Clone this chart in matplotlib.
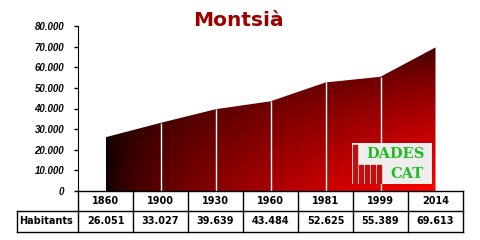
import matplotlib.pyplot as plt
import numpy as np
from matplotlib.patches import Rectangle
from matplotlib.transforms import blended_transform_factory

years = ['1860', '1900', '1930', '1960', '1981', '1999', '2014']
habitants = [26051, 33027, 39639, 43484, 52625, 55389, 69613]
row_label = 'Habitants'
title = 'Montsià'
yticks = [0, 10000, 20000, 30000, 40000, 50000, 60000, 70000, 80000]


def fmt(v):
    # catalan thousands separator
    return f'{v:,}'.replace(',', '.')


fig = plt.figure(figsize=(4.8, 2.4), dpi=100)
ax = fig.add_axes([78 / 480, 1 - 191 / 240, 385 / 480, 165 / 240])

x = np.arange(len(years))
y = np.array(habitants)

# filled area with corner gradient (dark top-left -> red bottom-right)
poly = ax.fill_between(x, 0, y, color='none', lw=0)
gx, gy = np.meshgrid(np.linspace(0, 1, 300), np.linspace(0, 1, 200))
f = (gx * (1 - 0.92 * gy)) ** 0.6
img = np.zeros((200, 300, 3))
img[..., 0] = 0.04 + 0.96 * f
img_art = ax.imshow(img, extent=[x[0], x[-1], 0, y.max()], origin='lower',
                    aspect='auto', interpolation='bilinear')
img_art.set_clip_path(poly.get_paths()[0], transform=ax.transData)
ax.vlines(x[1:-1], 0, y[1:-1], color='white', lw=1)

ax.set_xlim(-0.5, len(years) - 0.5)
ax.set_ylim(0, 80000)
ax.set_yticks(yticks)
ax.set_yticklabels([fmt(t) for t in yticks], fontsize=7, fontweight='bold',
                   fontstyle='italic', family='Liberation Sans')
ax.tick_params(axis='y', length=3, width=1, pad=7)
ax.set_xticks([])
for s in ['top', 'right', 'bottom']:
    ax.spines[s].set_visible(False)

fig.text(238 / 480, 1 - 20 / 240, title, ha='center', va='center',
         fontsize=14.5, fontweight='bold', color='#990000')

# data table under the axis
tr = blended_transform_factory(ax.transData, ax.transAxes)
h1 = -20 / 165
h2 = -41 / 165
left = -0.5 - 61 / 55
right = len(years) - 0.5
kw = dict(color='black', lw=1, transform=tr, clip_on=False)
ax.plot([-0.5, right], [0, 0], **kw)
ax.plot([left, right], [h1, h1], **kw)
ax.plot([left, right], [h2, h2], **kw)
ax.plot([left, left], [h1, h2], **kw)
for b in np.arange(len(years) + 1) - 0.5:
    ax.plot([b, b], [0, h2], **kw)
tkw = dict(ha='center', va='center', fontsize=7, fontweight='bold',
           transform=tr, clip_on=False)
for i, (yr, v) in enumerate(zip(years, habitants)):
    ax.text(i, h1 / 2, yr, **tkw)
    ax.text(i, (h1 + h2) / 2, fmt(v), **tkw)
ax.text(left + 0.03, (h1 + h2) / 2, row_label, ha='left', va='center',
        fontsize=7, fontweight='bold', transform=tr, clip_on=False)

# DADES CAT logo
lg = fig.add_axes([352 / 480, 1 - 184 / 240, 80 / 480, 41 / 240])
lg.set_xlim(0, 80)
lg.set_ylim(0, 41)
lg.axis('off')
lg.add_patch(Rectangle((0, 0), 80, 41, color='#eeeeee'))
for bx, bh in [(1, 38), (7, 18), (13, 18), (19, 18), (25, 18)]:
    lg.add_patch(Rectangle((bx, 1), 3.5, bh, color='#bb1111'))
lg.text(44, 30, 'DADES', ha='center', va='center', fontsize=10.5,
        fontweight='bold', family='DejaVu Serif', color='#22bb22')
lg.text(55, 10, 'CAT', ha='center', va='center', fontsize=10.5,
        fontweight='bold', family='DejaVu Serif', color='#22bb22')

fig.savefig('out.png', dpi=100)
